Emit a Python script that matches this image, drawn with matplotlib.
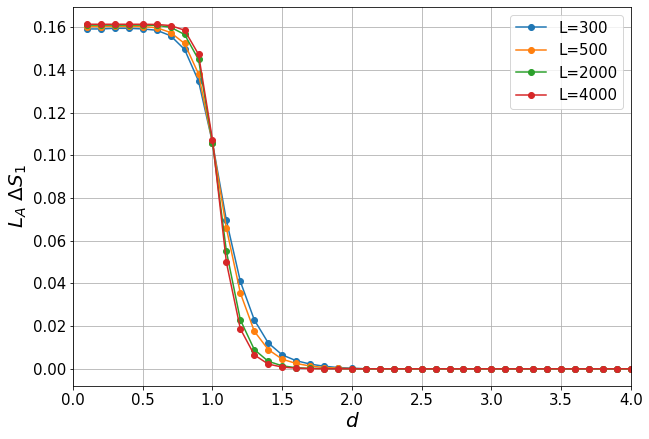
import numpy as np
import matplotlib
matplotlib.use("Agg")
import matplotlib.pyplot as plt

d = [round(0.1 * i, 1) for i in range(1, 41)]

tail = [0.0] * 20  # d = 2.1 .. 4.0

L300 = [0.1592, 0.1592, 0.1595, 0.1595, 0.1592, 0.1586, 0.1560, 0.1496, 0.1348, 0.1060,
        0.0695, 0.0409, 0.0229, 0.0121, 0.0065, 0.0038, 0.0022, 0.0012, 0.0006, 0.0003] + tail
L500 = [0.1603, 0.1603, 0.1604, 0.1604, 0.1603, 0.1598, 0.1575, 0.1524, 0.1381, 0.1060,
        0.0658, 0.0355, 0.0176, 0.0090, 0.0045, 0.0025, 0.0013, 0.0006, 0.0003, 0.0001] + tail
L2000 = [0.1610, 0.1610, 0.1610, 0.1610, 0.1610, 0.1609, 0.1600, 0.1566, 0.1449, 0.1060,
         0.0550, 0.0229, 0.0090, 0.0035, 0.0014, 0.0005, 0.0002, 0.0001, 0.0, 0.0] + tail
L4000 = [0.1614, 0.1614, 0.1614, 0.1614, 0.1614, 0.1613, 0.1608, 0.1586, 0.1473, 0.1073,
         0.0498, 0.0187, 0.0065, 0.0022, 0.0008, 0.0003, 0.0001, 0.0, 0.0, 0.0] + tail

series = [("L=300", L300), ("L=500", L500), ("L=2000", L2000), ("L=4000", L4000)]

fig = plt.figure(figsize=(649 / 72, 439 / 72), dpi=72)
ax = fig.add_axes([0.1125, 0.1207, 0.8595, 0.8633])

for lab, vals in series:
    ax.plot(d, vals, "o-", label=lab)

ax.set_xlim(0, 4.0)
ax.grid(True)
ax.tick_params(labelsize=15)
ax.set_xlabel(r"$d$", fontsize=20)
ax.set_ylabel(r"$L_A\ \Delta S_1$", fontsize=20)
ax.legend(fontsize=15, loc="upper right")

fig.savefig("out.png", dpi=72)
